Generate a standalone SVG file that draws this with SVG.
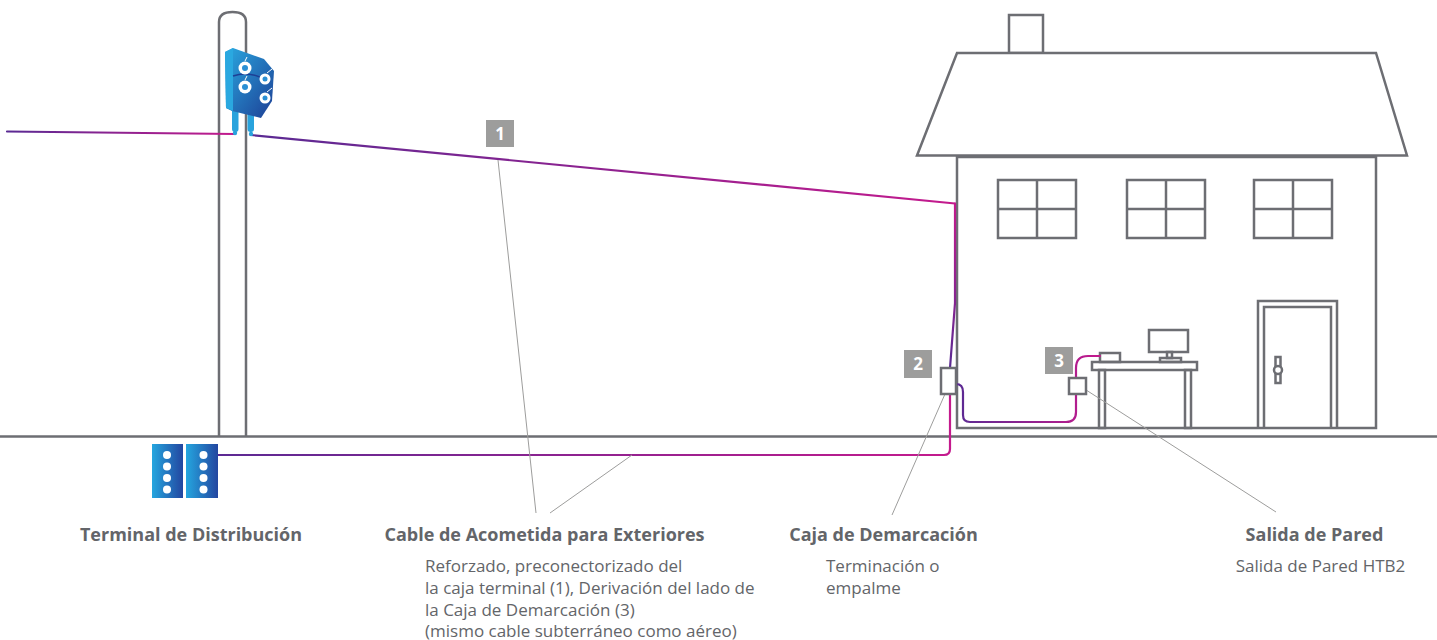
<svg xmlns="http://www.w3.org/2000/svg" width="1437" height="640" viewBox="0 0 1437 640">
  <defs>
    <linearGradient id="cableLR" x1="0" y1="0" x2="1" y2="0">
      <stop offset="0" stop-color="#5a2a93"/>
      <stop offset="1" stop-color="#c41a8d"/>
    </linearGradient>
    <linearGradient id="cableTB" x1="0" y1="0" x2="0" y2="1">
      <stop offset="0" stop-color="#c41a8d"/>
      <stop offset="1" stop-color="#5a2a93"/>
    </linearGradient>
    <linearGradient id="blueBox" x1="0" y1="0" x2="1" y2="1">
      <stop offset="0" stop-color="#2aa8e0"/>
      <stop offset="1" stop-color="#1d3f95"/>
    </linearGradient>
    <linearGradient id="blueTerm" x1="0" y1="0" x2="1" y2="0">
      <stop offset="0" stop-color="#25a6df"/>
      <stop offset="1" stop-color="#2346a0"/>
    </linearGradient>
    <style>
      .ln { fill: none; stroke: #6d6e73; stroke-width: 2.5; }
      .lnw { fill: #ffffff; stroke: #6d6e73; stroke-width: 2.5; }
      .lead { fill: none; stroke: #9d9d9c; stroke-width: 1; }
      .cable { fill: none; stroke-width: 2.2; stroke-linecap: round; stroke-linejoin: round; }
      .tag rect { fill: #9d9d9c; }
      .tag text { fill: #ffffff; font-family: "Open Sans", "Liberation Sans", sans-serif; font-weight: 700; font-size: 17px; text-anchor: middle; }
      .title { fill: #636569; font-family: "Open Sans", "Liberation Sans", sans-serif; font-weight: 700; font-size: 18px; }
      .body { fill: #636569; font-family: "Open Sans", "Liberation Sans", sans-serif; font-size: 17px; }
      .dot { fill: #ffffff; }
    </style>
  </defs>

  <!-- ground -->
  <line x1="0" y1="436.5" x2="1437" y2="436.5" class="ln"/>

  <!-- house -->
  <g id="house">
    <rect x="1009" y="15" width="34" height="38" class="lnw"/>
    <polygon points="917,155.5 957,53 1376,53 1407,155.5" class="lnw"/>
    <rect x="957" y="157" width="419" height="271" class="lnw"/>
    <g id="windows" class="ln">
      <rect x="998" y="180" width="78" height="58"/>
      <line x1="1037" y1="180" x2="1037" y2="238"/>
      <line x1="998" y1="209" x2="1076" y2="209"/>
      <rect x="1127" y="180" width="78" height="58"/>
      <line x1="1166" y1="180" x2="1166" y2="238"/>
      <line x1="1127" y1="209" x2="1205" y2="209"/>
      <rect x="1254" y="180" width="78" height="58"/>
      <line x1="1293" y1="180" x2="1293" y2="238"/>
      <line x1="1254" y1="209" x2="1332" y2="209"/>
    </g>
    <g id="door" class="ln">
      <path d="M1258,428 V301 H1337 V428"/>
      <path d="M1264,428 V307 H1331 V428"/>
      <rect x="1275.5" y="357" width="5" height="26" fill="#fff"/>
      <circle cx="1278" cy="370" r="4" fill="#fff"/>
    </g>
    <g id="desk" class="ln">
      <rect x="1092" y="362" width="105" height="8" fill="#fff"/>
      <rect x="1099" y="370" width="6" height="58"/>
      <rect x="1185" y="370" width="6" height="58"/>
      <rect x="1100" y="353" width="20" height="9"/>
      <rect x="1149" y="330" width="39" height="22"/>
      <rect x="1167" y="352" width="5" height="6"/>
      <rect x="1160" y="358" width="21" height="4"/>
    </g>
  </g>

  <!-- utility pole -->
  <g id="pole">
    <path d="M219,436 V22 Q219,12 232.5,12 Q246,12 246,22 V436" class="ln" stroke-width="2.2"/>
  </g>

  <!-- cables -->
  <g id="connectors">
    <line x1="7" y1="131.5" x2="235" y2="134" class="cable" stroke="url(#cableLR)"/>
    <line x1="251" y1="135" x2="955" y2="203.5" class="cable" stroke="url(#cableLR)"/>
    <path d="M955,203.5 V303 L950,368" class="cable" stroke="url(#cableTB)"/>
    <path d="M205,455 H944 Q950,455 950,449 V394" class="cable" stroke="url(#cableLR)"/>
    <path d="M956,384 Q963,384 963,392 V415 Q963,422 970,422 H1066 Q1076,422 1076,412 V368 Q1076,356 1088,356 H1100" class="cable" stroke="url(#cableLR)"/>

    <!-- callout leaders -->
    <line x1="498" y1="160" x2="536" y2="513" class="lead"/>
    <line x1="632" y1="455" x2="550" y2="513" class="lead"/>
    <line x1="945" y1="394" x2="892" y2="515" class="lead"/>
    <line x1="1083" y1="388" x2="1276" y2="512" class="lead"/>
  </g>

  <!-- terminal on the pole -->
  <g id="pole-terminal">
    <rect x="232" y="104" width="6.5" height="28" rx="3" fill="#29a3dd"/>
    <rect x="247.5" y="104" width="6.5" height="28" rx="3" fill="#29a3dd"/>
    <circle cx="235" cy="133" r="2.2" fill="#29a3dd"/>
    <circle cx="251" cy="134" r="2.2" fill="#29a3dd"/>
    <polygon points="225,52 233,48 264,59 274,71 272,101 261,118 232,111 226,108" fill="url(#blueBox)"/>
    <polygon points="225,52 233,48 233,111 226,108" fill="#2aa8e0"/>
    <path d="M233,76 Q251,70 270,82" fill="none" stroke="#1d3f95" stroke-width="1.5"/>
    <g fill="#ffffff">
      <circle cx="245" cy="68" r="6.5"/>
      <circle cx="245" cy="87" r="6.5"/>
      <circle cx="265" cy="79" r="5.5"/>
      <circle cx="265" cy="98" r="5.5"/>
    </g>
    <g fill="#2a8fd4">
      <circle cx="245" cy="68" r="3"/>
      <circle cx="245" cy="87" r="3"/>
      <circle cx="265" cy="79" r="2.5"/>
      <circle cx="265" cy="98" r="2.5"/>
    </g>
    <g stroke="#ffffff" stroke-width="1">
      <line x1="245" y1="61" x2="247" y2="57"/>
      <line x1="245" y1="80" x2="247" y2="76"/>
      <line x1="267" y1="73" x2="272" y2="69"/>
      <line x1="267" y1="92" x2="272" y2="88"/>
    </g>
  </g>

  <!-- distribution terminal -->
  <g id="distribution-terminal">
    <rect x="152" y="444" width="31" height="54" fill="url(#blueTerm)"/>
    <rect x="186" y="444" width="32" height="54" fill="url(#blueTerm)"/>
    <circle cx="167" cy="455" r="4" class="dot"/>
    <circle cx="167" cy="466.5" r="4" class="dot"/>
    <circle cx="167" cy="478" r="4" class="dot"/>
    <circle cx="167" cy="489.5" r="4" class="dot"/>
    <circle cx="203.5" cy="455" r="4" class="dot"/>
    <circle cx="203.5" cy="466.5" r="4" class="dot"/>
    <circle cx="203.5" cy="478" r="4" class="dot"/>
    <circle cx="203.5" cy="489.5" r="4" class="dot"/>
  </g>

  <!-- demarcation box -->
  <g id="demarcation-box">
    <rect x="941" y="368" width="15" height="26" class="lnw"/>
  </g>

  <!-- wall outlet -->
  <g id="wall-outlet">
    <rect x="1069" y="378" width="17" height="16" class="lnw"/>
  </g>

  <!-- number tags -->
  <g id="tag-1" class="tag">
    <rect x="486" y="120" width="28" height="27"/>
    <text x="500" y="140">1</text>
  </g>
  <g id="tag-2" class="tag">
    <rect x="904" y="350" width="28" height="28"/>
    <text x="918" y="370">2</text>
  </g>
  <g id="tag-3" class="tag">
    <rect x="1045" y="347" width="28" height="27"/>
    <text x="1059" y="367">3</text>
  </g>

  <!-- labels -->
  <g id="label-terminal">
    <text x="191" y="541" class="title" text-anchor="middle">Terminal de Distribución</text>
  </g>
  <g id="label-cable">
    <text x="544.5" y="541" class="title" text-anchor="middle">Cable de Acometida para Exteriores</text>
    <text x="425" y="572" class="body">Reforzado, preconectorizado del</text>
    <text x="425" y="594" class="body">la caja terminal (1), Derivación del lado de</text>
    <text x="425" y="616" class="body">la Caja de Demarcación (3)</text>
    <text x="425" y="637" class="body">(mismo cable subterráneo como aéreo)</text>
  </g>
  <g id="label-demarcation">
    <text x="883.5" y="541" class="title" text-anchor="middle">Caja de Demarcación</text>
    <text x="826" y="572" class="body">Terminación o</text>
    <text x="826" y="594" class="body">empalme</text>
  </g>
  <g id="label-outlet">
    <text x="1314.5" y="541" class="title" text-anchor="middle">Salida de Pared</text>
    <text x="1320.5" y="572" class="body" text-anchor="middle">Salida de Pared HTB2</text>
  </g>
</svg>
